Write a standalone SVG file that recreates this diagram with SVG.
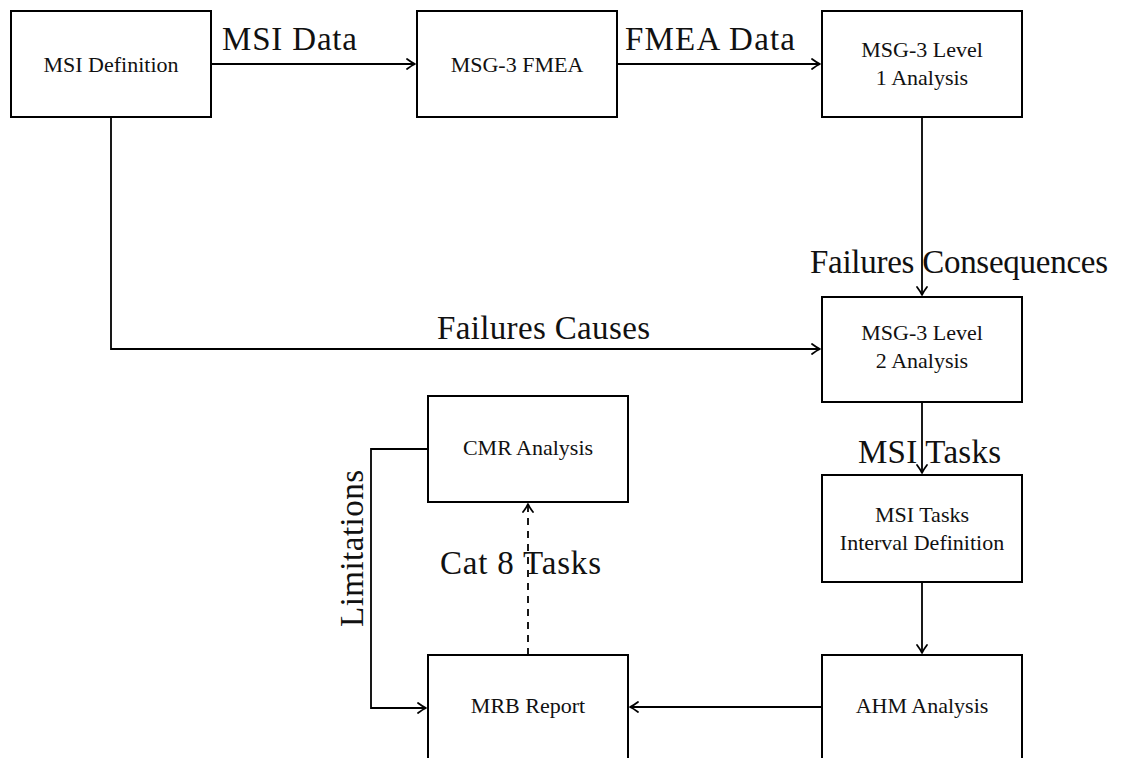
<svg xmlns="http://www.w3.org/2000/svg" width="1122" height="758" viewBox="0 0 1122 758">
  <style>
    .box { fill: #ffffff; stroke: #000000; stroke-width: 2; }
    .node-text { font-family: "Liberation Serif", "Times New Roman", serif; font-size: 22px; fill: #111111; text-anchor: middle; }
    .label { font-family: "Liberation Serif", "Times New Roman", serif; font-size: 33px; fill: #111111; }
    .edge { fill: none; stroke: #000000; stroke-width: 1.8; marker-end: url(#tip); }
    .dashed { stroke-dasharray: 7 6; }
  </style>
  <defs>
    <marker id="tip" markerUnits="userSpaceOnUse" markerWidth="16" markerHeight="16" viewBox="-10 -8 12 16" refX="0" refY="0" orient="auto">
      <path d="M -8,-5 Q -3,-1.2 0,0 Q -3,1.2 -8,5" fill="none" stroke="#000000" stroke-width="1.8" stroke-linecap="round" stroke-linejoin="round"/>
    </marker>
  </defs>

  <rect width="1122" height="758" fill="#ffffff"/>

  <!-- connectors and their labels -->
  <g id="connectors">
    <path class="edge" d="M 211,64 L 415,64"/>
    <path class="edge" d="M 617,64 L 820,64"/>
    <path class="edge" d="M 922,117 L 922,295"/>
    <path class="edge" d="M 111,117 L 111,349 L 820,349"/>
    <path class="edge" d="M 922,402 L 922,473"/>
    <path class="edge" d="M 922,582 L 922,653"/>
    <path class="edge" d="M 822,707 L 630,707"/>
    <path class="edge dashed" d="M 528,655 L 528,504"/>
    <path class="edge" d="M 428,449 L 371,449 L 371,708 L 426,708"/>

    <text class="label" x="222" y="50" textLength="135" lengthAdjust="spacing">MSI Data</text>
    <text class="label" x="625" y="50" textLength="170" lengthAdjust="spacing">FMEA Data</text>
    <text class="label" x="810" y="273" textLength="298" lengthAdjust="spacing">Failures Consequences</text>
    <text class="label" x="437" y="339" textLength="213" lengthAdjust="spacing">Failures Causes</text>
    <text class="label" x="858" y="463" textLength="143" lengthAdjust="spacing">MSI Tasks</text>
    <text class="label" x="440" y="574" textLength="161" lengthAdjust="spacing">Cat 8 Tasks</text>
    <text class="label" transform="translate(363,627) rotate(-90)" textLength="157" lengthAdjust="spacing">Limitations</text>
  </g>

  <!-- nodes -->
  <g id="msi-definition">
    <rect class="box" x="11" y="11" width="200" height="106"/>
    <text class="node-text" x="111" y="72">MSI Definition</text>
  </g>
  <g id="msg3-fmea">
    <rect class="box" x="417" y="11" width="200" height="106"/>
    <text class="node-text" x="517" y="72">MSG-3 FMEA</text>
  </g>
  <g id="msg3-level1">
    <rect class="box" x="822" y="11" width="200" height="106"/>
    <text class="node-text" x="922" y="57">MSG-3 Level</text>
    <text class="node-text" x="922" y="85">1 Analysis</text>
  </g>
  <g id="msg3-level2">
    <rect class="box" x="822" y="297" width="200" height="105"/>
    <text class="node-text" x="922" y="340">MSG-3 Level</text>
    <text class="node-text" x="922" y="368">2 Analysis</text>
  </g>
  <g id="msi-tasks-interval">
    <rect class="box" x="822" y="475" width="200" height="107"/>
    <text class="node-text" x="922" y="522">MSI Tasks</text>
    <text class="node-text" x="922" y="550">Interval Definition</text>
  </g>
  <g id="ahm-analysis">
    <rect class="box" x="822" y="655" width="200" height="106"/>
    <text class="node-text" x="922" y="713">AHM Analysis</text>
  </g>
  <g id="cmr-analysis">
    <rect class="box" x="428" y="396" width="200" height="106"/>
    <text class="node-text" x="528" y="455">CMR Analysis</text>
  </g>
  <g id="mrb-report">
    <rect class="box" x="428" y="655" width="200" height="106"/>
    <text class="node-text" x="528" y="713">MRB Report</text>
  </g>
</svg>
